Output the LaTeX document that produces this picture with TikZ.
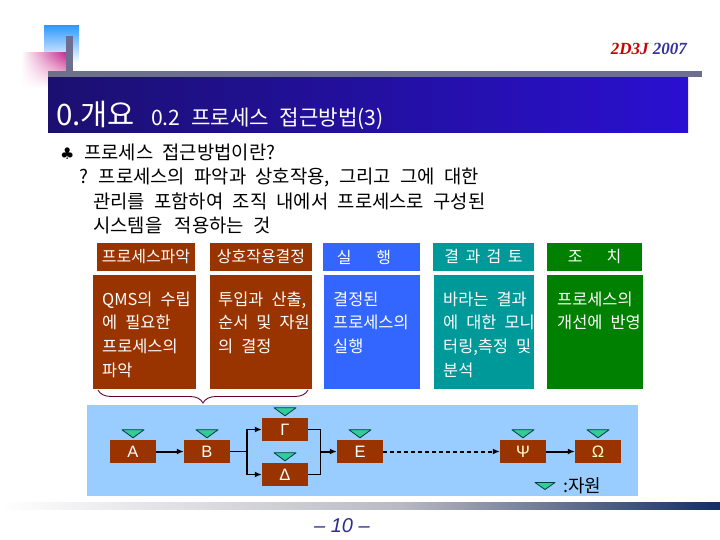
\documentclass[tikz,border=0pt]{standalone}
\usepackage{fontspec}
\setmainfont[WordSpace=2.2]{Noto Sans CJK KR}
\newfontfamily\serifb{Liberation Serif}
\newfontfamily\arialf{Liberation Sans}
\newfontfamily\dejavu{DejaVu Sans}
\usetikzlibrary{arrows.meta,decorations.pathreplacing,fadings}
\definecolor{brn}{RGB}{153,51,0}
\definecolor{blu}{RGB}{51,102,255}
\definecolor{tea}{RGB}{0,153,153}
\definecolor{grn}{RGB}{0,128,0}
\definecolor{pnl}{RGB}{153,204,255}
\definecolor{tri}{RGB}{51,204,153}
\definecolor{trio}{RGB}{0,60,60}
\definecolor{barg}{RGB}{110,110,144}
\definecolor{tbl}{RGB}{27,16,112}
\definecolor{tbr}{RGB}{42,16,208}
\definecolor{redt}{RGB}{204,0,0}
\definecolor{navyt}{RGB}{51,51,153}
\definecolor{pgc}{RGB}{46,46,138}
\definecolor{brc}{RGB}{102,0,51}
\definecolor{sqb}{RGB}{51,153,255}
\definecolor{sqp}{RGB}{204,40,140}
\definecolor{bmid}{RGB}{185,185,195}
\definecolor{bnavy}{RGB}{20,45,95}
\tikzfading[name=fadedown, top color=transparent!0, bottom color=transparent!100]
\tikzset{
  hdr/.style={inner sep=0pt, minimum height=28pt, text=white, font=\fontsize{16}{16}\selectfont},
  bodybox/.style={inner sep=0pt, minimum height=114pt},
  btxt/.style={inner sep=0pt, anchor=base west, text=white, font=\fontsize{16.4}{16.4}\selectfont},
  ltxt/.style={inner sep=0pt, anchor=base west, font=\fontsize{18.8}{18.8}\selectfont},
  fbox/.style={fill=brn, inner sep=0pt, minimum width=46pt, minimum height=23pt, text=white, font=\arialf\fontsize{16.5}{16.5}\selectfont},
  tristyle/.style={fill=tri, draw=trio, line width=0.8pt, line join=round},
  thinln/.style={line width=1pt},
  thickln/.style={line width=2pt},
  arr/.style={-{Latex[length=7pt,width=6pt]}}
}
\begin{document}
\begin{tikzpicture}[x=1pt,y=-1pt]
\useasboundingbox (0,0) rectangle (720,540);
\fill[white] (0,0) rectangle (720,540);
% header decoration
\shade[top color=sqb, bottom color=white] (44,26) rectangle (79,63);
\shade[left color=white, right color=sqp, path fading=fadedown] (21,53) rectangle (67,88);
\fill[barg] (66,36) rectangle (73,77);
\fill[barg] (48,71) rectangle (702,77);
\shade[left color=tbl, right color=tbr] (48,78) rectangle (688,133);
\node[inner sep=0pt, anchor=base west, text=white, font=\fontsize{29.5}{29.5}\selectfont] (t0) at (56,126) {0.개요};
\node[inner sep=0pt, anchor=base west, text=white, font=\fontsize{21.2}{21.2}\selectfont] (t1) at (151,126) {0.2 프로세스 접근방법(3)};
\node[inner sep=0pt, anchor=base east, font=\serifb\bfseries\itshape\fontsize{17}{17}\selectfont] (brand) at (687,55) {\textcolor{redt}{2D3J} \textcolor{navyt}{2007}};
% intro text
\node[inner sep=0pt, anchor=base west, font=\dejavu\fontsize{16}{16}\selectfont] (club) at (60,160) {♣};
\node[ltxt] (l1) at (84,160) {프로세스 접근방법이란?};
\node[ltxt] (l2) at (79,184) {? 프로세스의 파악과 상호작용, 그리고 그에 대한};
\node[ltxt] (l3) at (93,209) {관리를 포함하여 조직 내에서 프로세스로 구성된};
\node[ltxt] (l4) at (93,233) {시스템을 \,적용하는 것};
% column headers
\node[hdr, fill=brn, minimum width=98pt] (h1) at (146,257) {프로세스파악};
\node[hdr, fill=brn, minimum width=102pt] (h2) at (261,257) {상호작용결정};
\node[hdr, fill=blu, minimum width=97pt] (h3) at (371.5,257) {};
\node[hdr] (h3t) at (364,257) {실\hspace{25pt}행};
\node[hdr, fill=tea, minimum width=101pt] (h4) at (483.5,257) {결\hspace{6.5pt}과\hspace{6.5pt}검\hspace{6.5pt}토};
\node[hdr, fill=grn, minimum width=95pt] (h5) at (594.5,257) {조\hspace{24pt}치};
% column bodies
\node[bodybox, fill=brn, minimum width=103pt] (b1) at (144.5,332) {};
\node[bodybox, fill=brn, minimum width=102pt] (b2) at (261,332) {};
\node[bodybox, fill=blu, minimum width=96pt] (b3) at (372,332) {};
\node[bodybox, fill=tea, minimum width=100pt] (b4) at (484,332) {};
\node[bodybox, fill=grn, minimum width=96pt] (b5) at (595,332) {};
\foreach \t [count=\i from 0] in {QMS의 수립, 에 필요한, 프로세스의, 파악}
  \node[btxt] (ca\i) at (102,305+23.7*\i) {\t};
\foreach \t [count=\i from 0] in {{투입과 산출,}, 순서 및 자원, 의 결정}
  \node[btxt] (cb\i) at (218,305+23.7*\i) {\t};
\foreach \t [count=\i from 0] in {결정된, 프로세스의, 실행}
  \node[btxt] (cc\i) at (333,305+23.7*\i) {\t};
\foreach \t [count=\i from 0] in {바라는 결과, 에 대한 모니, {터링,측정 및}, 분석}
  \node[btxt] (cd\i) at (443,305+23.7*\i) {\t};
\foreach \t [count=\i from 0] in {프로세스의, 개선에 반영}
  \node[btxt] (ce\i) at (557,305+23.7*\i) {\t};
% brace
\coordinate (br1) at (308,390);
\coordinate (br2) at (98,390);
\draw[brc, line width=0.9pt, decorate, decoration={brace, amplitude=13pt}] (br1) -- (br2);
% flow panel
\fill[pnl] (87,405) rectangle (638,496);
\node[fbox] (A) at (133,451.5) {A};
\node[fbox] (B) at (207,451.5) {B};
\node[fbox] (G) at (285,429.5) {Γ};
\node[fbox] (D) at (285,474.5) {Δ};
\node[fbox] (E) at (360,451.5) {E};
\node[fbox, text={rgb,255:red,255;green,255;blue,204}] (P) at (523,451.5) {Ψ};
\node[fbox, text={rgb,255:red,255;green,255;blue,204}] (W) at (598,451.5) {Ω};
\foreach \n in {A,B,G,D,E,P,W}
  \draw[tristyle] ([yshift=2pt]\n.north) -- ++(-11,-8) -- ++(22,0) -- cycle;
\coordinate (s) at (247,451.5);
\coordinate (m) at (320,451.5);
\draw[thickln, arr] (A.east) -- (B.west);
\draw[thinln] (B.east) -- (s);
\draw[line width=1.4pt, arr] (s) |- (G.west);
\draw[line width=1.4pt, arr] (s) |- (D.west);
\draw[thinln] (G.east) -| (m);
\draw[thinln] (D.east) -| (m);
\draw[thickln, arr] (m) -- (E.west);
\draw[thickln, dash pattern=on 4pt off 3pt, arr] (E.east) -- (P.west);
\draw[thickln, arr] (P.east) -- (W.west);
% legend
\coordinate (lg) at (545,489.5);
\draw[tristyle] (lg) -- ++(-10,-7) -- ++(20,0) -- cycle;
\node[inner sep=0pt, anchor=base west, font=\fontsize{18}{18}\selectfont] (lgt) at (563,492) {:자원};
% bottom bar
\shade[left color=white, right color=bmid] (0,502) rectangle (400,509);
\shade[left color=bmid, right color=bnavy] (400,502) rectangle (720,509);
\node[inner sep=0pt, text=pgc, font=\arialf\itshape\fontsize{20}{20}\selectfont] (pg) at (342,526) {– 10 –};
\end{tikzpicture}
\end{document}
